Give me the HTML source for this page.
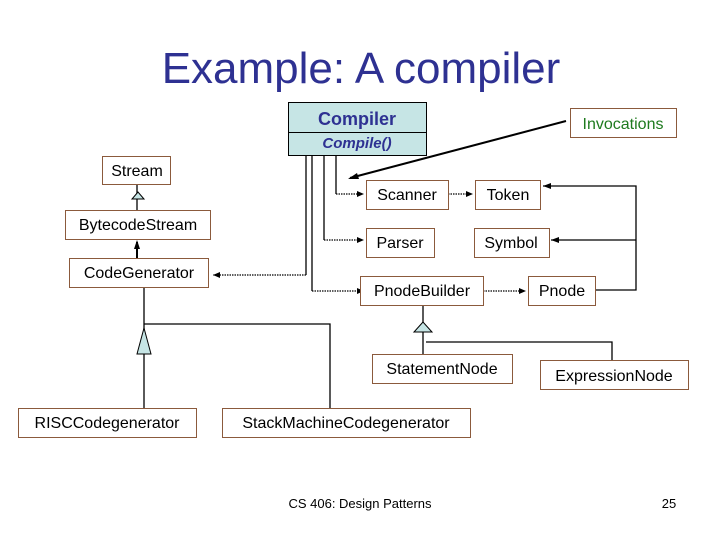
<!DOCTYPE html>
<html><head><style>
body{margin:0;background:#fff}
svg{display:block}
text{font-family:"Liberation Sans",Arial,sans-serif}
</style></head><body>
<svg width="720" height="540" xmlns="http://www.w3.org/2000/svg">
<text x="361" y="83" font-size="44" fill="#2e3192" text-anchor="middle">Example: A compiler</text>

<g fill="none" stroke="#000" stroke-width="1.3">
<path d="M306,155 V275"/>
<path d="M306,275 H213" stroke-dasharray="1.5,1"/>
<path d="M312,155 V291"/>
<path d="M312,291 H358" stroke-dasharray="1.5,1"/>
<path d="M324,155 V240"/>
<path d="M324,240 H358" stroke-dasharray="1.5,1"/>
<path d="M336,155 V194"/>
<path d="M336,194 H358" stroke-dasharray="1.5,1"/>
<path d="M448,194 H467" stroke-dasharray="1.5,1"/>
<path d="M483,291 H520" stroke-dasharray="1.5,1"/>
<path d="M596,290 H636 V186 H543"/>
<path d="M636,240 H551"/>
<path d="M566,121 L350,178" stroke-width="2"/>
<path d="M137,184 V210"/>
<path d="M137,258 V242" stroke-width="2"/>
<path d="M144,287 V408"/>
<path d="M144,324 H330 V408"/>
<path d="M423,305 V354"/>
<path d="M426,342 H612 V360"/>
</g>
<g fill="#000">
<path d="M213,275 l7,-3 v6z"/><path d="M364,291 l-7,-3 v6z"/><path d="M364,240 l-7,-3 v6z"/><path d="M364,194 l-7,-3 v6z"/>
<path d="M473,194 l-7,-3 v6z"/><path d="M526,291 l-7,-3 v6z"/><path d="M543,186 l8,-3 v6z"/><path d="M551,240 l8,-3 v6z"/>
<path d="M348,179 l9,-6 l2,6z"/><path d="M137,240 l-3,9 h6z"/>
</g>
<g fill="#c6e5e5" stroke="#000" stroke-width="1">
<path d="M138,192 l-6,7 h12z"/>
<path d="M144,328 l-7,26 h14z"/>
<path d="M423,322 l-9,10 h18z"/>
</g>

<rect x="288.5" y="102.5" width="138" height="53" fill="#c6e5e5" stroke="#000"/>
<line x1="288" y1="132.5" x2="426" y2="132.5" stroke="#000"/>
<text x="357" y="125" font-size="18" font-weight="bold" fill="#2e3192" text-anchor="middle">Compiler</text>
<text x="357" y="148" font-size="15" font-style="italic" font-weight="bold" fill="#2e3192" text-anchor="middle">Compile()</text>

<g fill="#fff" stroke="#8b5a3c" stroke-width="1">
<rect x="570.5" y="108.5" width="106" height="29"/>
<rect x="366.5" y="180.5" width="82" height="29"/>
<rect x="475.5" y="180.5" width="65" height="29"/>
<rect x="366.5" y="228.5" width="68" height="29"/>
<rect x="474.5" y="228.5" width="75" height="29"/>
<rect x="360.5" y="276.5" width="123" height="29"/>
<rect x="528.5" y="276.5" width="67" height="29"/>
<rect x="102.5" y="156.5" width="68" height="28"/>
<rect x="65.5" y="210.5" width="145" height="29"/>
<rect x="69.5" y="258.5" width="139" height="29"/>
<rect x="18.5" y="408.5" width="178" height="29"/>
<rect x="222.5" y="408.5" width="248" height="29"/>
<rect x="372.5" y="354.5" width="140" height="29"/>
<rect x="540.5" y="360.5" width="148" height="29"/>
</g>
<g font-size="16" fill="#000" text-anchor="middle">
<text x="623" y="129" fill="#1e7a1e">Invocations</text>
<text x="407" y="200">Scanner</text>
<text x="508" y="200">Token</text>
<text x="400" y="248">Parser</text>
<text x="511" y="248">Symbol</text>
<text x="422" y="296">PnodeBuilder</text>
<text x="562" y="296">Pnode</text>
<text x="137" y="176">Stream</text>
<text x="138" y="230">BytecodeStream</text>
<text x="139" y="278">CodeGenerator</text>
<text x="107" y="428">RISCCodegenerator</text>
<text x="346" y="428">StackMachineCodegenerator</text>
<text x="442" y="374">StatementNode</text>
<text x="614" y="381">ExpressionNode</text>
</g>
<text x="360" y="508" font-size="13" text-anchor="middle">CS 406: Design Patterns</text>
<text x="669" y="508" font-size="13" text-anchor="middle">25</text>
</svg>
</body></html>
